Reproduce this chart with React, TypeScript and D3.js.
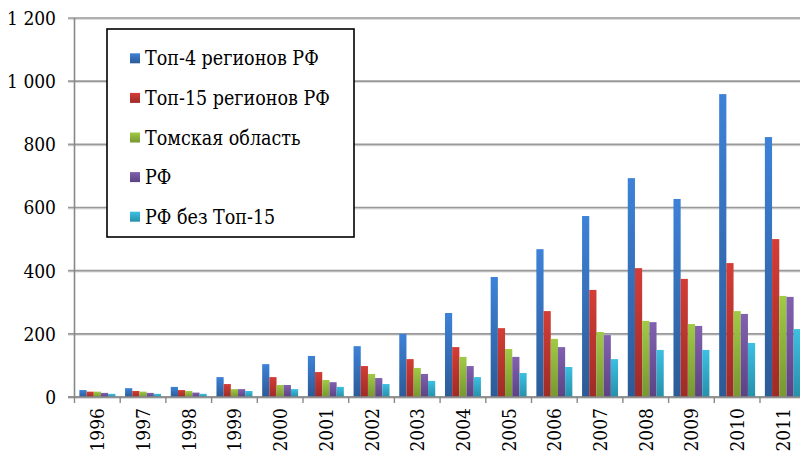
import { useMemo } from "react";
import * as d3 from "d3";

const years = ["1996", "1997", "1998", "1999", "2000", "2001", "2002", "2003", "2004", "2005", "2006", "2007", "2008", "2009", "2010", "2011"];

const seriesNames = ["Топ-4 регионов РФ", "Топ-15 регионов РФ", "Томская область", "РФ", "РФ без Топ-15"];

const top4 = [22, 28, 32, 63, 104, 130, 161, 200, 266, 380, 468, 573, 693, 627, 959, 823];
const top15 = [17, 19, 22, 41, 63, 79, 98, 120, 158, 218, 272, 339, 408, 374, 424, 500];
const tomsk = [17, 17, 19, 25, 38, 54, 73, 92, 127, 152, 184, 206, 241, 231, 272, 320];
const rf = [13, 13, 14, 25, 38, 47, 60, 73, 98, 127, 158, 196, 237, 225, 263, 317];
const rfNoTop15 = [10, 10, 10, 19, 25, 32, 41, 51, 63, 76, 95, 120, 149, 149, 171, 215];

const yTicks = [0, 200, 400, 600, 800, 1000, 1200];
const yTickLabels = ["0", "200", "400", "600", "800", "1 000", "1 200"];

// top / bottom gradient colours per series
const colors = [
  ["#3d82d8", "#2c5a96"],
  ["#d43d36", "#9e2b27"],
  ["#a0ca46", "#789731"],
  ["#8261b0", "#5c4283"],
  ["#3cc0e2", "#2790aa"],
];

const W = 800;
const H = 453;
const FONT = '"DejaVu Serif", serif';

export default function App() {
  const values = [top4, top15, tomsk, rf, rfNoTop15];

  const y = useMemo(() => d3.scaleLinear().domain([0, 1200]).range([397, 18]), []);
  const x0 = useMemo(() => d3.scaleBand<string>().domain(years).range([74.5, 805.7]).padding(0), []);
  const x1 = useMemo(() => {
    const bw = x0.bandwidth();
    const gap = bw * 0.213;
    return d3.scaleBand<number>().domain(d3.range(seriesNames.length)).range([gap / 2, bw - gap / 2]).padding(0);
  }, [x0]);

  return (
    <svg
      width={W}
      height={H}
      viewBox={`0 0 ${W} ${H}`}
      style={{ position: "absolute", left: 0, top: 0, background: "#fff", fontFamily: FONT, fontStretch: "condensed" }}
    >
      <defs>
        {colors.map((c, i) => (
          <linearGradient key={i} id={`bar-${i}`} x1="0" y1="0" x2="0" y2="1">
            <stop offset="0%" stopColor={c[0]} />
            <stop offset="100%" stopColor={c[1]} />
          </linearGradient>
        ))}
      </defs>

      {/* gridlines */}
      {yTicks.map((t) => (
        <g key={t}>
          <line x1={68} x2={W} y1={y(t) + 1.2} y2={y(t) + 1.2} stroke="#dcdcdc" strokeWidth={1.5} />
          <line x1={68} x2={W} y1={y(t)} y2={y(t)} stroke="#999" strokeWidth={1.6} />
        </g>
      ))}

      {/* y labels */}
      {yTicks.map((t, i) => (
        <text key={t} x={56} y={y(t)} dy="0.36em" textAnchor="end" fontSize={19} fill="#000">
          {yTickLabels[i]}
        </text>
      ))}

      {/* bars */}
      {years.map((yr, yi) => (
        <g key={yr} transform={`translate(${x0(yr)},0)`}>
          {values.map((vals, si) => (
            <rect
              key={si}
              x={x1(si)}
              y={y(vals[yi])}
              width={x1.bandwidth()}
              height={y(0) - y(vals[yi])}
              fill={`url(#bar-${si})`}
            />
          ))}
        </g>
      ))}

      {/* axes */}
      <line x1={74.5} x2={74.5} y1={y(1200)} y2={y(0)} stroke="#888" strokeWidth={1.6} />
      <line x1={68} x2={W} y1={y(0)} y2={y(0)} stroke="#888" strokeWidth={1.6} />
      {years.map((yr) => (
        <line key={yr} x1={x0(yr)!} x2={x0(yr)!} y1={y(0)} y2={y(0) + 6} stroke="#888" strokeWidth={1.4} />
      ))}
      <line x1={805.7} x2={805.7} y1={y(0)} y2={y(0) + 6} stroke="#888" strokeWidth={1.4} />

      {/* x labels */}
      {years.map((yr) => {
        const cx = x0(yr)! + x0.bandwidth() / 2;
        return (
          <text
            key={yr}
            transform={`translate(${cx + 7},${408}) rotate(-90)`}
            textAnchor="end"
            fontSize={19}
            fill="#000"
          >
            {yr}
          </text>
        );
      })}

      {/* legend */}
      <rect x={107} y={29} width={247} height={208} fill="#fff" stroke="#000" strokeWidth={1.6} />
      {seriesNames.map((name, i) => {
        const cy = 58.3 + i * 39.6;
        return (
          <g key={name}>
            <rect x={130} y={cy - 5} width={10} height={10} fill={`url(#bar-${i})`} />
            <text x={145} y={cy} dy="0.36em" fontSize={19.5} fill="#000">
              {name}
            </text>
          </g>
        );
      })}
    </svg>
  );
}
